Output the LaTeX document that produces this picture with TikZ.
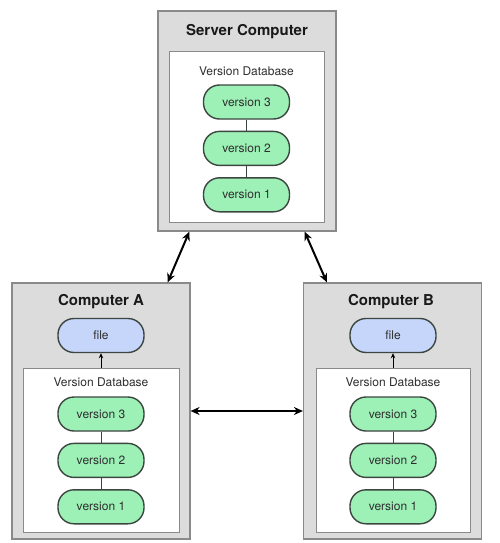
\documentclass[tikz,border=0pt]{standalone}
\usepackage{fontspec}
\setmainfont{TeX Gyre Heros}
\usetikzlibrary{arrows.meta, positioning}

\definecolor{boxgray}{HTML}{DCDCDC}
\definecolor{edgegray}{HTML}{8A8A8A}
\definecolor{pillgreen}{HTML}{9DF0B6}
\definecolor{pillblue}{HTML}{C6D6FA}
\definecolor{pilledge}{HTML}{3C4640}
\definecolor{textgray}{HTML}{2E2E2E}

\begin{document}
\begin{tikzpicture}[x=1pt, y=-1pt,
  machine/.style={draw=edgegray, fill=boxgray, line width=1.2pt, minimum width=178pt, inner sep=0pt},
  database/.style={draw=edgegray, fill=white, line width=1pt, inner sep=0pt},
  version/.style={draw=pilledge, fill=pillgreen, line width=1.4pt, rounded corners=16pt,
    minimum width=86pt, minimum height=34pt, inner sep=0pt, text=textgray,
    font=\fontsize{12}{14}\selectfont},
  title/.style={font=\fontsize{15}{18}\selectfont\bfseries, text=black!90},
  dblabel/.style={font=\fontsize{12}{14}\selectfont, text=textgray},
  link/.style={{Stealth[length=9pt,width=8pt]}-{Stealth[length=9pt,width=8pt]}, line width=2pt}
]
\useasboundingbox (0,0) rectangle (500,543);

% Machines
\node[machine, minimum height=220pt] (srv) at (247,121) {};
\node[machine, minimum height=256pt] (a) at (101,411) {};
\node[machine, minimum height=256pt] (b) at (392.5,411) {};

% Version databases
\node[database, minimum width=155pt, minimum height=170pt] (srv-db) at (246.5,137) {};
\node[database, minimum width=156pt, minimum height=164pt] (a-db) at (101,450) {};
\node[database, minimum width=154pt, minimum height=164pt] (b-db) at (393,450) {};

% Titles
\node[title] (srv-title) at (247,32) {Server Computer};
\node[title] (a-title) at (101,302) {Computer A};
\node[title] (b-title) at (391,302) {Computer B};
\node[dblabel] (srv-dblabel) at (246.5,71) {Version Database};
\node[dblabel] (a-dblabel) at (101,382) {Version Database};
\node[dblabel] (b-dblabel) at (393,382) {Version Database};

% Versions
\foreach \m/\x/\y in {srv/246.5/102, a/101/414, b/393/414} {
  \node[version] (\m-v3) at (\x,\y) {version 3};
  \node[version, below=11pt of \m-v3] (\m-v2) {version 2};
  \node[version, below=11pt of \m-v2] (\m-v1) {version 1};
  \draw[pilledge, line width=0.8pt] (\m-v3) -- (\m-v2) (\m-v2) -- (\m-v1);
}

% Checked out files
\node[version, fill=pillblue] (a-file) at (101,335.5) {file};
\node[version, fill=pillblue] (b-file) at (393,335.5) {file};
\draw[-{Stealth[length=5pt,width=4.5pt]}, line width=0.9pt] (a-db.north) -- (a-file.south);
\draw[-{Stealth[length=5pt,width=4.5pt]}, line width=0.9pt] (b-db.north) -- (b-file.south);

% Links
\draw[link] ([xshift=32pt]srv.south west) -- ([xshift=-23pt]a.north east);
\draw[link] ([xshift=-32pt]srv.south east) -- ([xshift=24pt]b.north west);
\draw[link] (a.east) -- (b.west);
\end{tikzpicture}
\end{document}
